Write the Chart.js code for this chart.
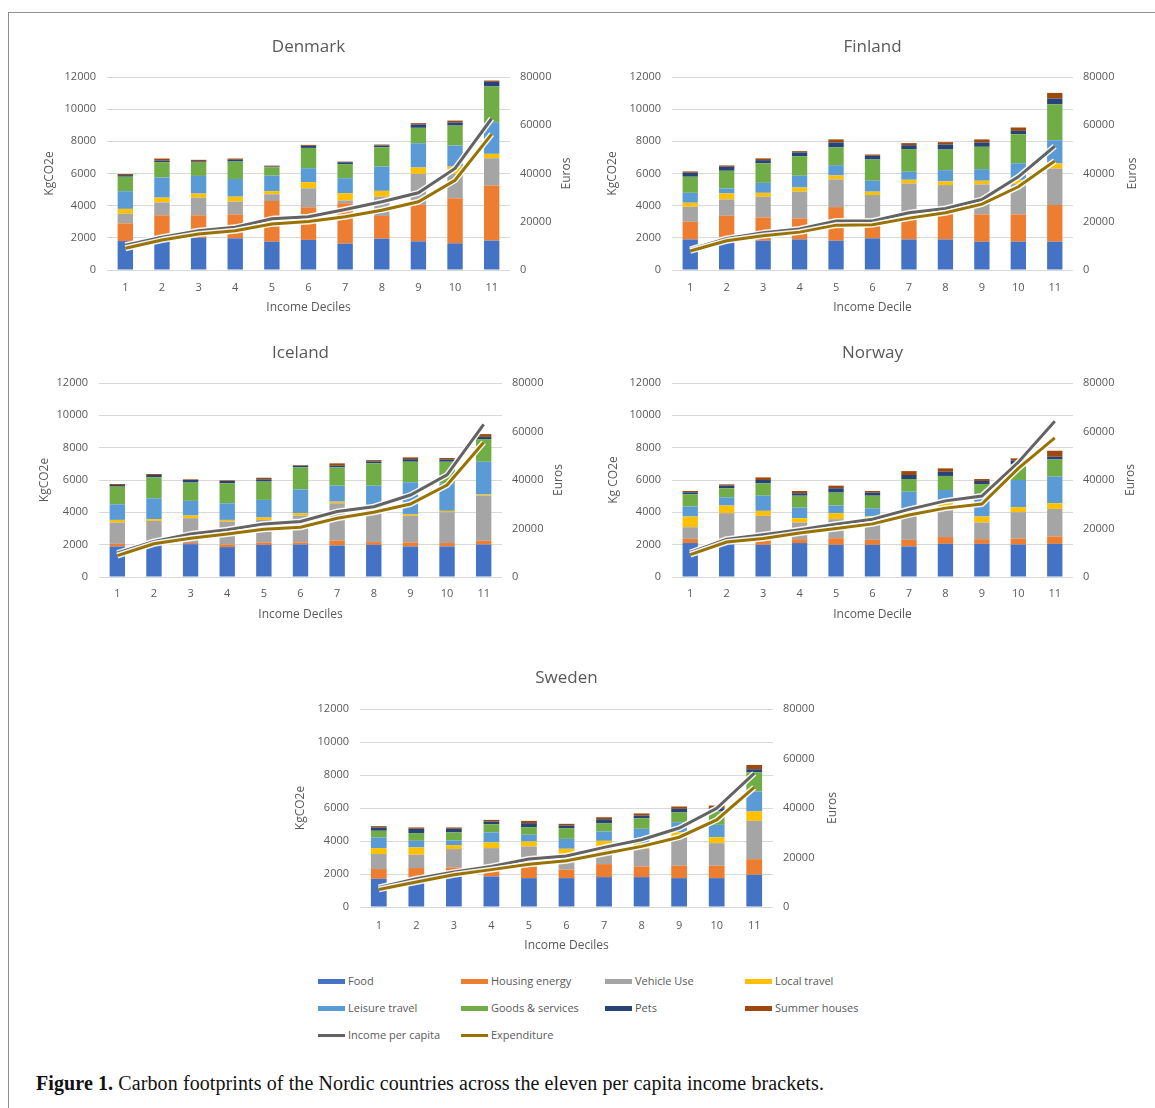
<!DOCTYPE html>
<html>
<head>
<meta charset="utf-8">
<script src="https://cdn.jsdelivr.net/npm/chart.js@4.4.1/dist/chart.umd.min.js"></script>
<style>
  html, body { margin: 0; padding: 0; background: #fff; width: 1155px; height: 1108px; overflow: hidden; }
  .frame { position: absolute; left: 8px; top: 12px; width: 1170px; height: 1120px;
           border-left: 1px solid #8f8f8f; border-top: 1px solid #8f8f8f; }
  .panel { position: absolute; }
  .panel canvas { display: block; }
  .legend-item { position: absolute; height: 14px; font: 11px 'Open Sans', sans-serif; color: #595959;
                 white-space: nowrap; line-height: 14px; }
  .legend-item .sw { position: absolute; left: 0; width: 27px; }
  .legend-item .tx { position: absolute; left: 30px; top: 0; }
  .caption { position: absolute; left: 36px; top: 1072px; font-family: 'Liberation Serif', serif;
             font-size: 20px; letter-spacing: 0.1px; color: #111; white-space: nowrap; }
  .caption b { font-weight: bold; }
</style>
</head>
<body>
<div class="frame"></div>
<div class="panel" id="denmark"></div>
<div class="panel" id="finland"></div>
<div class="panel" id="iceland"></div>
<div class="panel" id="norway"></div>
<div class="panel" id="sweden"></div>
<div id="legend"></div>
<div class="caption"><b>Figure 1.</b> Carbon footprints of the Nordic countries across the eleven per capita income brackets.</div>

<script>
// Income deciles on the x axis
const deciles = ['1', '2', '3', '4', '5', '6', '7', '8', '9', '10', '11'];

// Footprint categories (stacked bars, kg CO2e per capita)
const categories = ['Food', 'Housing energy', 'Vehicle Use', 'Local travel',
                    'Leisure travel', 'Goods & services', 'Pets', 'Summer houses'];
const barColours = ['#4472c4', '#ed7d31', '#a5a5a5', '#ffc000',
                    '#5b9bd5', '#70ad47', '#264478', '#9e480e'];

// Euro series (right axis)
const lineNames = ['Income per capita', 'Expenditure'];
const lineColours = ['#636363', '#997300'];

// Axis ticks
const kgTicks = [0, 2000, 4000, 6000, 8000, 10000, 12000];
const euroTicks = [0, 20000, 40000, 60000, 80000];

// ---- Denmark ----
const denmarkKg = [
  [1800, 1900, 2000, 1970, 1760, 1870, 1640, 1950, 1780, 1660, 1830], // Food
  [1100, 1500, 1400, 1490, 2530, 2030, 2510, 1410, 2270, 2800, 3420], // Housing energy
  [600, 800, 1100, 790, 420, 1180, 170, 1200, 1930, 1520, 1700],      // Vehicle Use
  [300, 300, 250, 310, 190, 380, 450, 360, 390, 450, 270],            // Local travel
  [1100, 1250, 1100, 1100, 970, 870, 940, 1510, 1510, 1310, 1970],    // Leisure travel
  [900, 950, 830, 1080, 520, 1260, 870, 1200, 960, 1240, 2220],       // Goods & services
  [100, 100, 80, 110, 40, 130, 120, 110, 210, 190, 290],              // Pets
  [70, 130, 90, 80, 60, 60, 40, 60, 80, 120, 80]                      // Summer houses
];
const denmarkIncome = [10300, 13600, 16300, 17700, 21200, 22100, 25100, 28300, 32000, 42100, 62800];
const denmarkExpenditure = [9000, 12400, 14900, 16300, 19100, 20100, 22100, 24800, 28300, 37200, 56300];

// ---- Finland ----
const finlandKg = [
  [1900, 1800, 1820, 1900, 1820, 1970, 1900, 1900, 1760, 1760, 1760],
  [1100, 1570, 1450, 1310, 2090, 1180, 1410, 1660, 1700, 1700, 2280],
  [930, 1020, 1280, 1660, 1720, 1510, 2070, 1720, 1860, 1890, 2270],
  [250, 370, 250, 260, 250, 210, 230, 230, 230, 250, 320],
  [620, 310, 620, 730, 640, 680, 500, 700, 720, 1040, 1440],
  [1000, 1100, 1210, 1220, 1100, 1320, 1410, 1280, 1390, 1800, 2240],
  [250, 250, 200, 230, 310, 230, 240, 310, 270, 210, 350],
  [80, 80, 110, 80, 190, 80, 130, 150, 190, 210, 350]
];
const finlandIncome = [8550, 13100, 15400, 17000, 20300, 20300, 23700, 25500, 29200, 38600, 51300];
const finlandExpenditure = [7900, 12100, 14200, 15700, 18600, 18800, 21500, 23700, 27300, 34500, 45200];

// ---- Iceland ----
const icelandKg = [
  [1890, 2050, 2030, 1850, 1990, 2010, 1950, 1990, 1890, 1890, 2010],
  [160, 130, 70, 160, 150, 130, 310, 170, 250, 210, 230],
  [1320, 1290, 1540, 1420, 1390, 1660, 2300, 1990, 1660, 1910, 2790],
  [160, 110, 160, 100, 150, 150, 100, 100, 100, 80, 70],
  [970, 1290, 910, 1030, 1090, 1470, 990, 1400, 1960, 1700, 2030],
  [1090, 1290, 1130, 1230, 1130, 1360, 1130, 1380, 1270, 1340, 1400],
  [100, 150, 160, 150, 140, 100, 100, 120, 160, 140, 140],
  [60, 60, 40, 40, 100, 40, 150, 80, 110, 90, 170]
];
const icelandIncome = [9900, 14700, 17700, 19500, 21900, 22900, 27000, 29000, 33800, 42100, 62900];
const icelandExpenditure = [8800, 13700, 16000, 17700, 19700, 20500, 24200, 26700, 30100, 37900, 55500];

// ---- Norway ----
const norwayKg = [
  [2100, 2050, 1990, 2100, 1990, 1990, 1890, 2050, 2050, 2010, 2050],
  [260, 350, 350, 240, 410, 310, 410, 420, 290, 370, 460],
  [720, 1550, 1440, 1030, 1180, 1230, 1540, 1780, 1030, 1630, 1700],
  [660, 470, 310, 270, 370, 210, 210, 310, 370, 310, 350],
  [620, 510, 940, 650, 470, 510, 1230, 820, 1340, 1680, 1650],
  [760, 560, 760, 740, 800, 780, 780, 870, 670, 990, 1060],
  [120, 160, 210, 150, 270, 190, 250, 260, 190, 200, 170],
  [80, 80, 160, 140, 160, 100, 240, 210, 120, 150, 370]
];
const norwayIncome = [10100, 15600, 17400, 19500, 21800, 23800, 27900, 31400, 33400, 47300, 64200];
const norwayExpenditure = [9200, 14400, 15900, 18100, 20000, 21900, 25600, 28400, 30100, 44800, 57400];

// ---- Sweden ----
const swedenKg = [
  [1710, 1650, 1850, 1850, 1750, 1750, 1810, 1810, 1750, 1750, 1960],
  [590, 710, 550, 550, 1010, 510, 790, 650, 750, 750, 940],
  [910, 810, 1110, 1170, 910, 950, 1070, 1070, 1710, 1370, 2320],
  [360, 440, 240, 340, 300, 320, 340, 340, 310, 360, 570],
  [640, 400, 280, 610, 410, 600, 570, 870, 620, 750, 1210],
  [410, 470, 490, 500, 460, 650, 500, 640, 590, 810, 1170],
  [200, 260, 220, 160, 240, 160, 240, 160, 220, 200, 180],
  [80, 80, 80, 100, 140, 100, 120, 130, 140, 160, 260]
];
const swedenIncome = [7900, 11400, 14100, 16400, 19400, 20600, 24100, 27200, 31900, 39900, 54000];
const swedenExpenditure = [7100, 10100, 13000, 15100, 17300, 18700, 21600, 24500, 28200, 35200, 48300];

const TEXT = '#595959';
const FONT = "'Open Sans', sans-serif";

// Panel title over the plot area, and the right-hand axis title read bottom-to-top
const panelText = {
  id: 'panelText',
  afterDraw(chart, args, opts) {
    const { ctx, chartArea, width } = chart;
    ctx.save();
    ctx.fillStyle = TEXT;
    ctx.textAlign = 'center';
    ctx.textBaseline = 'middle';
    ctx.font = `17px ${FONT}`;
    ctx.fillText(opts.text, (chartArea.left + chartArea.right) / 2, opts.y);
    ctx.font = `12px ${FONT}`;
    ctx.translate(width - opts.rightTitleOffset, (chartArea.top + chartArea.bottom) / 2);
    ctx.rotate(-Math.PI / 2);
    ctx.fillText(opts.rightTitle, 0, 0);
    ctx.restore();
  }
};

// White halo under each line so it stands out over the bars
const lineHalo = {
  id: 'lineHalo',
  beforeDatasetDraw(chart, args) {
    const meta = args.meta;
    if (meta.type !== 'line') return;
    const ctx = chart.ctx;
    ctx.save();
    ctx.beginPath();
    meta.data.forEach((p, i) => (i ? ctx.lineTo(p.x, p.y) : ctx.moveTo(p.x, p.y)));
    ctx.strokeStyle = 'rgba(255,255,255,0.9)';
    ctx.lineWidth = 6;
    ctx.lineJoin = 'round';
    ctx.stroke();
    ctx.restore();
  }
};

const plainNumber = v => String(v);

function makePanel(id, p) {
  const el = document.getElementById(id);
  el.style.left = p.x + 'px';
  el.style.top = p.y + 'px';
  const canvas = document.createElement('canvas');
  canvas.width = p.w;
  canvas.height = p.h;
  el.appendChild(canvas);

  const datasets = categories.map((name, i) => ({
    type: 'bar', label: name, data: p.kg[i], backgroundColor: barColours[i],
    yAxisID: 'y', order: 2, barPercentage: 0.42, categoryPercentage: 1
  }));
  [p.income, p.expenditure].forEach((vals, i) => datasets.push({
    type: 'line', label: lineNames[i], data: vals, borderColor: lineColours[i],
    borderWidth: 3, pointRadius: 0, tension: 0, fill: false, yAxisID: 'y1', order: 1 - i
  }));

  const tickFont = { family: FONT, size: 11 };
  const titleFont = { family: FONT, size: 12 };

  new Chart(canvas, {
    data: { labels: deciles, datasets },
    options: {
      responsive: false, animation: false, devicePixelRatio: 1,
      layout: { padding: { top: p.area.top, left: 0, right: 0, bottom: 0 } },
      plugins: {
        legend: { display: false }, tooltip: { enabled: false },
        panelText: { text: p.title, y: p.titleY, rightTitle: 'Euros', rightTitleOffset: p.y1TitleOffset }
      },
      scales: {
        x: {
          stacked: true,
          grid: { display: false, drawTicks: false }, border: { display: false },
          ticks: { color: TEXT, font: tickFont, padding: p.xTickPad },
          title: { display: true, text: p.xTitle, color: TEXT, font: titleFont, padding: { top: 0, bottom: p.xTitlePad } },
          afterFit(s) { s.height = p.h - p.area.bottom; }
        },
        y: {
          stacked: true, min: kgTicks[0], max: kgTicks[kgTicks.length - 1],
          afterBuildTicks(s) { s.ticks = kgTicks.map(v => ({ value: v })); },
          grid: { color: '#d9d9d9', lineWidth: 1, drawTicks: false }, border: { display: false },
          ticks: { color: TEXT, font: tickFont, padding: 11, callback: plainNumber },
          title: { display: true, text: p.yTitle, color: TEXT, font: titleFont, padding: { top: p.yTitlePad, bottom: 0 } },
          afterFit(s) { s.width = p.area.left; }
        },
        y1: {
          position: 'right', min: euroTicks[0], max: euroTicks[euroTicks.length - 1],
          afterBuildTicks(s) { s.ticks = euroTicks.map(v => ({ value: v })); },
          grid: { display: false, drawTicks: false }, border: { display: false },
          ticks: { color: TEXT, font: tickFont, padding: 10, callback: plainNumber },
          afterFit(s) { s.width = p.w - p.area.right; }
        }
      }
    },
    plugins: [panelText, lineHalo]
  });
}

makePanel('denmark', {
  title: 'Denmark', kg: denmarkKg, income: denmarkIncome, expenditure: denmarkExpenditure,
  x: 40, y: 30, w: 550, h: 295, area: { left: 67, right: 470, top: 47, bottom: 240 },
  titleY: 17, yTitle: 'KgCO2e', yTitlePad: 2, y1TitleOffset: 23,
  xTitle: 'Income Deciles', xTitlePad: 10, xTickPad: 11
});
makePanel('finland', {
  title: 'Finland', kg: finlandKg, income: finlandIncome, expenditure: finlandExpenditure,
  x: 600, y: 30, w: 550, h: 295, area: { left: 72, right: 473, top: 47, bottom: 240 },
  titleY: 17, yTitle: 'KgCO2e', yTitlePad: 5, y1TitleOffset: 17,
  xTitle: 'Income Decile', xTitlePad: 10, xTickPad: 11
});
makePanel('iceland', {
  title: 'Iceland', kg: icelandKg, income: icelandIncome, expenditure: icelandExpenditure,
  x: 30, y: 340, w: 550, h: 290, area: { left: 69, right: 472, top: 43, bottom: 237 },
  titleY: 13, yTitle: 'KgCO2e', yTitlePad: 7, y1TitleOffset: 21,
  xTitle: 'Income Deciles', xTitlePad: 8, xTickPad: 10
});
makePanel('norway', {
  title: 'Norway', kg: norwayKg, income: norwayIncome, expenditure: norwayExpenditure,
  x: 600, y: 340, w: 550, h: 290, area: { left: 72, right: 473, top: 43, bottom: 237 },
  titleY: 13, yTitle: 'Kg CO2e', yTitlePad: 6, y1TitleOffset: 19,
  xTitle: 'Income Decile', xTitlePad: 8, xTickPad: 10
});
makePanel('sweden', {
  title: 'Sweden', kg: swedenKg, income: swedenIncome, expenditure: swedenExpenditure,
  x: 280, y: 660, w: 580, h: 300, area: { left: 80, right: 493, top: 49, bottom: 247 },
  titleY: 18, yTitle: 'KgCO2e', yTitlePad: 13, y1TitleOffset: 27,
  xTitle: 'Income Deciles', xTitlePad: 7, xTickPad: 12
});

// Shared legend for all five panels
const legendCols = [318, 461, 605, 745];
const legendRows = [981, 1008, 1035];
const legendEntries = categories.map((name, i) => ({ name, colour: barColours[i], kind: 'bar' }))
  .concat(lineNames.map((name, i) => ({ name, colour: lineColours[i], kind: 'line' })));
const legendBox = document.getElementById('legend');
legendEntries.forEach((e, i) => {
  const item = document.createElement('div');
  item.className = 'legend-item';
  item.style.left = legendCols[i % 4] + 'px';
  item.style.top = (legendRows[Math.floor(i / 4)] - 7) + 'px';
  const sw = document.createElement('div');
  sw.className = 'sw';
  sw.style.background = e.colour;
  sw.style.height = e.kind === 'bar' ? '5px' : '3px';
  sw.style.top = e.kind === 'bar' ? '5px' : '6px';
  const tx = document.createElement('div');
  tx.className = 'tx';
  tx.textContent = e.name;
  item.appendChild(sw);
  item.appendChild(tx);
  legendBox.appendChild(item);
});
</script>
</body>
</html>
